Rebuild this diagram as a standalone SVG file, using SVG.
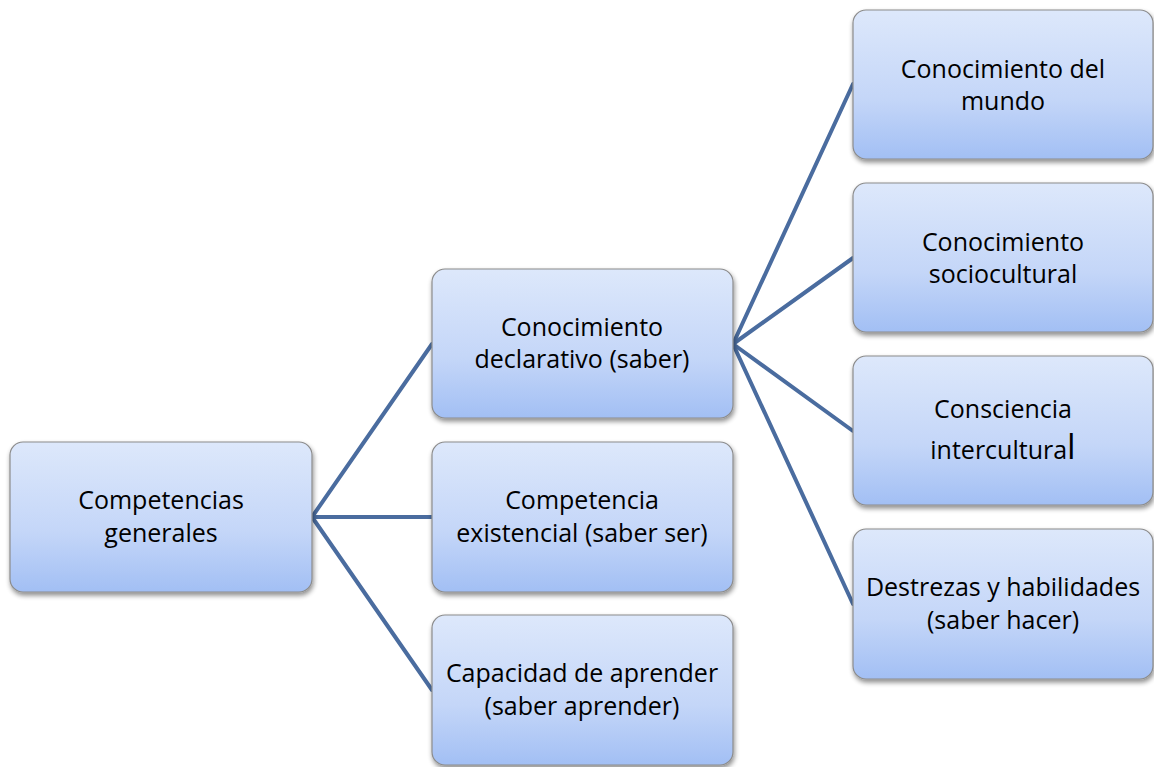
<svg xmlns="http://www.w3.org/2000/svg" width="1154" height="767" viewBox="0 0 1154 767">
<defs>
<linearGradient id="g" x1="0" y1="0" x2="0" y2="1">
<stop offset="0" stop-color="#dde8fb"/>
<stop offset="0.6" stop-color="#c4d6f8"/>
<stop offset="1" stop-color="#a2bff4"/>
</linearGradient>
<filter id="sh" x="-10%" y="-10%" width="120%" height="125%">
<feGaussianBlur in="SourceAlpha" stdDeviation="2.5"/>
<feOffset dx="1" dy="3" result="b"/>
<feComponentTransfer><feFuncA type="linear" slope="0.45"/></feComponentTransfer>
<feMerge><feMergeNode/><feMergeNode in="SourceGraphic"/></feMerge>
</filter>
</defs>
<style>
.box{fill:url(#g);stroke:#8c8c8c;stroke-width:1.2;filter:url(#sh)}
.t{font-family:"Open Sans","Liberation Sans",sans-serif;font-size:25px;fill:#000;text-anchor:middle}
.c{stroke:#4a6c9f;stroke-width:4;fill:none;stroke-linecap:round}
</style>
<rect width="1154" height="767" fill="#fff"/>
<g id="connectors">
<line class="c" x1="312" y1="517" x2="432" y2="344"/>
<line class="c" x1="312" y1="517" x2="432" y2="517"/>
<line class="c" x1="312" y1="517" x2="432" y2="690"/>
<line class="c" x1="733" y1="344" x2="853" y2="84"/>
<line class="c" x1="733" y1="344" x2="853" y2="258"/>
<line class="c" x1="733" y1="344" x2="853" y2="431"/>
<line class="c" x1="733" y1="344" x2="853" y2="604"/>
</g>
<g id="n1"><rect class="box" x="10" y="442" width="302" height="150" rx="13"/>
<text class="t" x="161" y="509">Competencias</text><text class="t" x="161" y="542">generales</text></g>
<g id="n2"><rect class="box" x="432" y="269" width="301" height="149" rx="13"/>
<text class="t" x="582" y="336">Conocimiento</text><text class="t" x="582" y="368">declarativo (saber)</text></g>
<g id="n3"><rect class="box" x="432" y="442" width="301" height="150" rx="13"/>
<text class="t" x="582" y="509">Competencia</text><text class="t" x="582" y="542">existencial (saber ser)</text></g>
<g id="n4"><rect class="box" x="432" y="615" width="301" height="150" rx="13"/>
<text class="t" x="582" y="682">Capacidad de aprender</text><text class="t" x="582" y="715">(saber aprender)</text></g>
<g id="n5"><rect class="box" x="853" y="10" width="300" height="149" rx="13"/>
<text class="t" x="1003" y="78">Conocimiento del</text><text class="t" x="1003" y="110">mundo</text></g>
<g id="n6"><rect class="box" x="853" y="183" width="300" height="149" rx="13"/>
<text class="t" x="1003" y="251">Conocimiento</text><text class="t" x="1003" y="283">sociocultural</text></g>
<g id="n7"><rect class="box" x="853" y="356" width="300" height="149" rx="13"/>
<text class="t" x="1003" y="418">Consciencia</text><text class="t" x="1003" y="459">intercultura<tspan font-size="34">l</tspan></text></g>
<g id="n8"><rect class="box" x="853" y="529" width="300" height="150" rx="13"/>
<text class="t" x="1003" y="596">Destrezas y habilidades</text><text class="t" x="1003" y="629">(saber hacer)</text></g>
</svg>
